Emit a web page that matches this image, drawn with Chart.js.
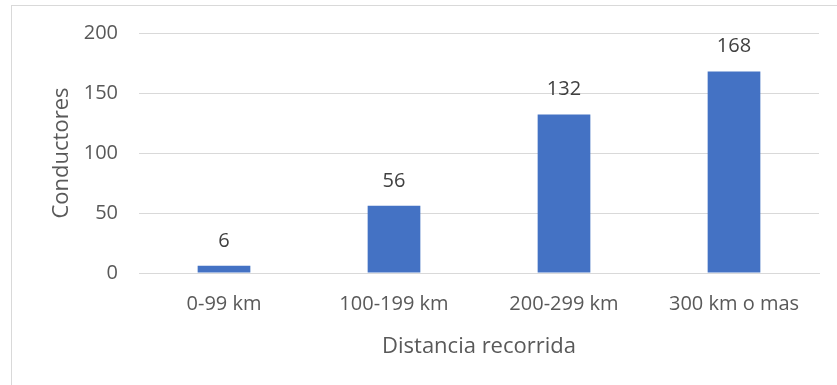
<!DOCTYPE html>
<html>
<head>
<meta charset="utf-8">
<script src="https://cdn.jsdelivr.net/npm/chart.js@4/dist/chart.umd.min.js"></script>
<style>
  html, body { margin: 0; padding: 0; background: #ffffff; }
  #wrap { width: 837px; height: 385px; position: relative; }
</style>
</head>
<body>
<div id="wrap"><canvas id="c" width="837" height="385"></canvas></div>
<script>
// Drivers grouped by distance travelled
const categories = ['0-99 km', '100-199 km', '200-299 km', '300 km o mas'];
const conductores = [6, 56, 132, 168];
const yTicks = [0, 50, 100, 150, 200];

const FONT = "'Open Sans', 'Noto Sans', sans-serif";

// Thin grey frame around the chart
const framePlugin = {
  id: 'frame',
  beforeDraw(chart) {
    const ctx = chart.ctx;
    ctx.save();
    ctx.strokeStyle = '#d9d9d9';
    ctx.lineWidth = 1;
    ctx.strokeRect(11.5, 5.5, 1000, 1000);
    ctx.restore();
  }
};

// Value labels above each bar
const valueLabels = {
  id: 'valueLabels',
  afterDatasetsDraw(chart) {
    const ctx = chart.ctx;
    const meta = chart.getDatasetMeta(0);
    ctx.save();
    ctx.font = '20px ' + FONT;
    ctx.fillStyle = '#404040';
    ctx.textAlign = 'center';
    ctx.textBaseline = 'middle';
    meta.data.forEach((bar, i) => {
      ctx.fillText(String(conductores[i]), bar.x, bar.y - 25);
    });
    ctx.restore();
  }
};

new Chart(document.getElementById('c'), {
  type: 'bar',
  data: {
    labels: categories,
    datasets: [{
      data: conductores,
      backgroundColor: '#4472c4',
      borderWidth: 0,
      barPercentage: 0.31,
      categoryPercentage: 1.0
    }]
  },
  options: {
    responsive: false,
    animation: false,
    devicePixelRatio: 1,
    layout: { padding: { top: 33, right: 18, left: 12, bottom: 0 } },
    plugins: {
      legend: { display: false },
      tooltip: { enabled: false }
    },
    scales: {
      x: {
        grid: { display: false, drawTicks: false },
        border: { display: true, color: '#d9d9d9', width: 1 },
        ticks: {
          color: '#595959',
          font: { family: FONT, size: 20 },
          padding: 19,
          maxRotation: 0
        },
        title: {
          display: true,
          text: 'Distancia recorrida',
          color: '#595959',
          font: { family: FONT, size: 22 },
          padding: { top: 0, bottom: 25 }
        },
        afterFit(scale) { scale.height = 112; }
      },
      y: {
        min: 0,
        max: 200,
        afterBuildTicks(scale) { scale.ticks = yTicks.map(v => ({ value: v })); },
        grid: { color: '#d9d9d9', lineWidth: 1, drawTicks: false },
        border: { display: false },
        ticks: {
          color: '#595959',
          font: { family: FONT, size: 20 },
          padding: 21
        },
        title: {
          display: true,
          text: 'Conductores',
          color: '#595959',
          font: { family: FONT, size: 22 },
          padding: { top: 37, bottom: 0 }
        },
        afterFit(scale) { scale.width = 127; }
      }
    }
  },
  plugins: [framePlugin, valueLabels]
});
</script>
</body>
</html>
